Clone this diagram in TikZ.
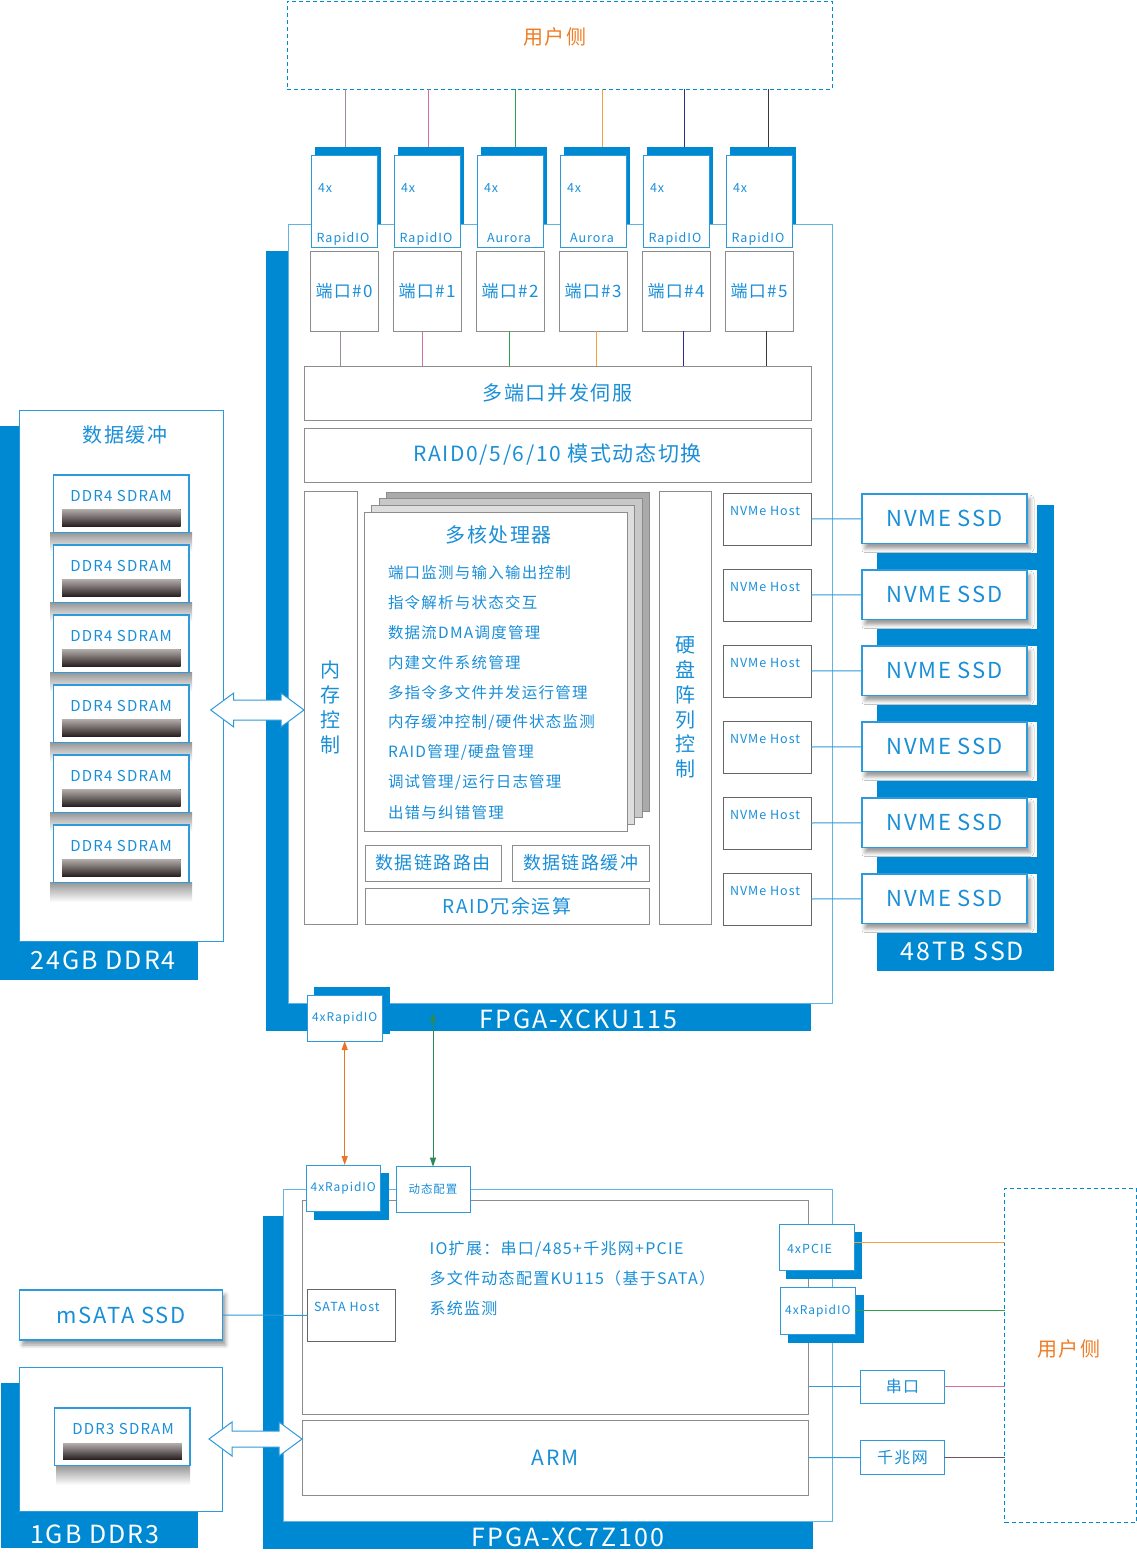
\documentclass[tikz,border=0pt]{standalone}
\usepackage{fontspec}
\setmainfont{Noto Sans CJK SC}[LetterSpace=8]
\usepackage{tikz}
\usetikzlibrary{positioning,arrows.meta,shadows,shadows.blur}

\definecolor{band}{HTML}{0089D3}
\definecolor{txtblue}{HTML}{1A8FD8}
\definecolor{edgeblue}{HTML}{2D9ADB}
\definecolor{paleblue}{HTML}{63B4E5}
\definecolor{boxgray}{HTML}{8C8C8C}
\definecolor{usrorange}{HTML}{EF7B22}
\definecolor{lnA}{HTML}{9C8A9E}
\definecolor{lnB}{HTML}{D1709F}
\definecolor{lnC}{HTML}{2DA150}
\definecolor{lnD}{HTML}{F5A03A}
\definecolor{lnE}{HTML}{2E2E86}
\definecolor{lnF}{HTML}{3A3A3A}
\definecolor{lnGig}{HTML}{6B5565}
\definecolor{arrOrange}{HTML}{E8742A}
\definecolor{arrGreen}{HTML}{2B8A55}
\definecolor{chipTop}{HTML}{B4AEAB}
\definecolor{chipBot}{HTML}{2A2222}
\definecolor{layerA}{HTML}{DEDEDE}
\definecolor{layerB}{HTML}{C8C8C8}
\definecolor{layerC}{HTML}{AAAAAA}

\newcommand{\fsz}[1]{\fontsize{#1}{#1}\selectfont}
\newcommand{\bigarrow}[4]{%
  \draw[hollow] (#1,#3) -- ++(23,-17) -- ++(0,17-#4) -- (#2-23,#3-#4)
    -- ++(0,#4-17) -- (#2,#3) -- ++(-23,17) -- ++(0,#4-17)
    -- (#1+23,#3+#4) -- ++(0,17-#4) -- cycle;}

\begin{document}
\begin{tikzpicture}[x=1pt,y=-1pt,
every node/.style={inner sep=0pt,outer sep=0pt,text=txtblue},
wh/.style 2 args={minimum width=#1,minimum height=#2},
userbox/.style={draw=band,dash pattern=on 4pt off 3pt,line width=0.8pt,anchor=north west},
usertext/.style={text=usrorange,font=\fsz{20}},
cardbox/.style={draw=edgeblue,fill=white,line width=1pt,anchor=north west},
greybox/.style={draw=boxgray,fill=white,line width=1pt,anchor=north west},
hostbox/.style={draw=black!60,fill=white,line width=1pt,anchor=north west,wh={88}{52}},
bluebox/.style={draw=edgeblue,fill=white,line width=1.3pt,anchor=north west},
fpgabox/.style={draw=paleblue,fill=white,line width=1pt,anchor=north west},
bandbox/.style={fill=band,anchor=north west},
bandtext/.style={text=white,font=\fsz{25}},
bandshadow/.style 2 args={general shadow={fill=band,draw=band,shadow xshift=#1,shadow yshift=#2}},
softshadow/.style={blur shadow={shadow xshift=3pt,shadow yshift=-5pt,shadow blur radius=4pt,shadow opacity=40}},
chipshade/.style={top color=black!42,bottom color=white},
chipbar/.style={top color=chipTop,bottom color=chipBot},
link/.style={edgeblue,line width=1pt},
wire/.style={line width=1pt},
hollow/.style={draw=edgeblue,fill=white,line width=1pt},
dblarrow/.style={{Triangle[length=9pt,width=6pt]}-{Triangle[length=9pt,width=6pt]}}
]
\useasboundingbox (0,0) rectangle (1137,1555);

\node[userbox,wh={545}{88}] (usertop) at (287,1) {};
\node[usertext] (usertoptxt) at (555,37) {用户侧};

\foreach \i in {0,...,5}
  \fill[band] (314.5+83*\i,147) rectangle ++(66.5,92);

\node[fpgabox,wh={544}{779},bandshadow={-21.5pt}{-27pt}] (ku115) at (288,224) {};
\node[bandtext] (ku115txt) at (578.5,1019) {FPGA-XCKU115};

\foreach \i/\proto in {0/RapidIO,1/RapidIO,2/Aurora,3/Aurora,4/RapidIO,5/RapidIO}{
  \node[cardbox,wh={66}{92}] (card\i) at (311+83*\i,155) {};
  \node[font=\fsz{12.5},anchor=base west] (cardx\i) at (318+83*\i,192) {4x};
  \node[font=\fsz{12.5},anchor=base] (cardname\i) at (343+83*\i,242) {\proto};
  \node[greybox,wh={68}{80},font=\fsz{17}] (port\i) at (310+83*\i,251) {端口\#\i};
}
\node[greybox,wh={507}{54},font=\fsz{20}] (mport) at (304,366) {多端口并发伺服};
\node[greybox,wh={507}{54},font=\fsz{21}] (raidsw) at (304,428) {RAID0/5/6/10 模式动态切换};

\foreach \i/\a/\b/\col in {0/1.7/-4/lnA,1/1.6/-4.1/lnB,2/5/-0.4/lnC,3/9/3.4/lnD,4/8.6/7.2/lnE,5/9/7/lnF}{
  \draw[wire,\col] ([xshift=\a pt,yshift=8pt]card\i.north) -- ([xshift=\a pt]card\i.north |- usertop.south);
  \draw[wire,\col] ([xshift=\b pt]port\i.south) -- ([xshift=\b pt]port\i.south |- mport.north);
}

\node[greybox,wh={53}{433},align=center,font=\fontsize{20}{25}\selectfont] (memctl) at (304,491) {内\\存\\控\\制};
\node[greybox,wh={52}{433},align=center,font=\fontsize{20}{24.8}\selectfont] (diskctl) at (659,491) {硬\\盘\\阵\\列\\控\\制};

\node[greybox,fill=layerC,wh={263}{319}] (cpuC) at (386,492) {};
\node[greybox,fill=layerB,wh={263}{319}] (cpuB) at (379,498.5) {};
\node[greybox,fill=layerA,wh={263}{319}] (cpuA) at (371.5,505.5) {};
\node[greybox,wh={263}{319}] (cpu) at (364.5,512) {};
\node[font=\fsz{20}] (cputitle) at (498.7,535) {多核处理器};
\foreach \t [count=\k from 0] in {端口监测与输入输出控制,指令解析与状态交互,数据流DMA调度管理,内建文件系统管理,多指令多文件并发运行管理,{内存缓冲控制/硬件状态监测},{RAID管理/硬盘管理},{调试管理/运行日志管理},出错与纠错管理}
  \node[font=\fsz{15.5},anchor=west] (task\k) at (388,572.7+30*\k) {\t};

\node[greybox,wh={136.3}{36},font=\fsz{18}] (route) at (365,845) {数据链路路由};
\node[greybox,wh={136.7}{36},font=\fsz{18}] (linkbuf) at (512.3,845) {数据链路缓冲};
\node[greybox,wh={284}{36},font=\fsz{19}] (raidcalc) at (365,888.3) {RAID冗余运算};

\node[bandbox,wh={177.3}{466}] (ssdband) at (876.7,505) {};
\node[bandtext] (ssdtxt) at (962.5,951.7) {48TB SSD};
\foreach \k in {0,...,5}{
  \node[hostbox] (host\k) at (723,493+76*\k) {};
  \node[font=\fsz{12.5},anchor=base west] (hosttxt\k) at (730,515+76*\k) {NVMe Host};
  \fill[white] (862,494+76*\k) rectangle ++(175,59);
  \node[bluebox,softshadow,wh={165}{49.5},font=\fsz{22}] (ssd\k) at (862,494+76*\k) {NVME SSD};
  \draw[link] (host\k.east) -- (ssd\k.west);
}

\node[bandbox,wh={198.3}{554}] (ddr4band) at (0,426) {};
\node[fpgabox,draw=edgeblue,wh={204.7}{531}] (ddr4box) at (19,410) {};
\node[font=\fsz{20}] (ddr4title) at (125,435) {数据缓冲};
\foreach \k in {0,...,5}{
  \shade[chipshade] (50,532+70*\k) rectangle ++(142,20);
  \node[bluebox,wh={135.7}{57.3}] (chip\k) at (53.3,475+70*\k) {};
  \node[font=\fsz{15}] (chiptxt\k) at (121,496+70*\k) {DDR4 SDRAM};
  \fill[chipbar] (62,509+70*\k) rectangle ++(118.7,17);
}
\node[bandtext,anchor=west] (ddr4txt) at (30.7,960.7) {24GB DDR4};

\node[bandbox,wh={196.5}{165}] (ddr3band) at (1,1383) {};
\node[fpgabox,draw=edgeblue,wh={203}{144}] (ddr3box) at (19.6,1367.7) {};
\shade[chipshade] (56,1465) rectangle ++(134,20);
\node[bluebox,wh={135.4}{57.7}] (ddr3chip) at (54.6,1408) {};
\node[font=\fsz{15}] (ddr3txt) at (123,1429) {DDR3 SDRAM};
\fill[chipbar] (63,1443) rectangle ++(118.8,16);
\node[bandtext,anchor=west] (ddr3cap) at (30,1534) {1GB DDR3};
\node[bluebox,softshadow,wh={203}{50},font=\fsz{22}] (msata) at (19.6,1290) {mSATA SSD};

\node[fpgabox,wh={549.5}{332.4},bandshadow={-20pt}{-27pt}] (z100) at (283,1189.3) {};
\node[bandtext] (z100txt) at (568,1537) {FPGA-XC7Z100};
\node[greybox,wh={506.5}{213.3}] (iobox) at (302,1200.7) {};
\node[greybox,wh={506.5}{75},font=\fsz{21}] (arm) at (302,1420) {ARM};
\node[hostbox,wh={88}{52.7}] (satahost) at (307.5,1289) {};
\node[font=\fsz{12.5},anchor=base west] (satatxt) at (314,1311) {SATA Host};
\foreach \t [count=\k from 0] in {{IO扩展：串口/485+千兆网+PCIE},{多文件动态配置KU115（基于SATA）},系统监测}
  \node[font=\fsz{16},anchor=west] (iotxt\k) at (429.6,1249+29.5*\k) {\t};

\node[cardbox,wh={74.6}{45.3},bandshadow={7.5pt}{8pt},font=\fsz{12}] (kurio) at (307.4,995.7) {4xRapidIO};
\node[cardbox,wh={74.5}{46},bandshadow={8pt}{-8pt},font=\fsz{12}] (zrio) at (306,1165) {4xRapidIO};
\node[cardbox,wh={74}{45.3},font=\fsz{11.5}] (dyncfg) at (396,1166.7) {动态配置};
\node[cardbox,wh={75}{45.7},bandshadow={7.5pt}{-8pt}] (pcie) at (779,1224.3) {};
\node[font=\fsz{12.5},anchor=west] (pcietxt) at (787,1248.7) {4xPCIE};
\node[cardbox,wh={74.3}{46.3},bandshadow={8pt}{-8pt},font=\fsz{12}] (xrio) at (780.7,1287.7) {4xRapidIO};
\node[bluebox,wh={83.8}{33},font=\fsz{16}] (serial) at (860.6,1370.3) {串口};
\node[bluebox,wh={83.8}{34},font=\fsz{16}] (gige) at (860.6,1440.7) {千兆网};
\node[userbox,wh={131.4}{334.4}] (userright) at (1004.6,1188.3) {};
\node[usertext] (userrighttxt) at (1069,1349) {用户侧};

\draw[wire,arrOrange,dblarrow] (kurio.south) -- (kurio.south |- zrio.north);
\coordinate (cfgtap) at (433,1013);
\draw[wire,arrGreen,dblarrow] (cfgtap) -- (dyncfg.north);
\draw[link] (msata.east) -- (satahost.west);
\draw[link] (serial.west) -- (serial.west -| iobox.east);
\draw[link] (gige.west) -- (arm.east);
\draw[wire,lnD] ([yshift=5pt]pcie.east) -- ([yshift=5pt]pcie.east -| userright.west);
\draw[wire,lnC] (xrio.east) -- (xrio.east -| userright.west);
\draw[wire,lnB] (serial.east) -- (serial.east -| userright.west);
\draw[wire,lnGig] (gige.east) -- (gige.east -| userright.west);
\bigarrow{210.7}{304}{710}{10}
\bigarrow{209}{302}{1439}{8}
\end{tikzpicture}
\end{document}
